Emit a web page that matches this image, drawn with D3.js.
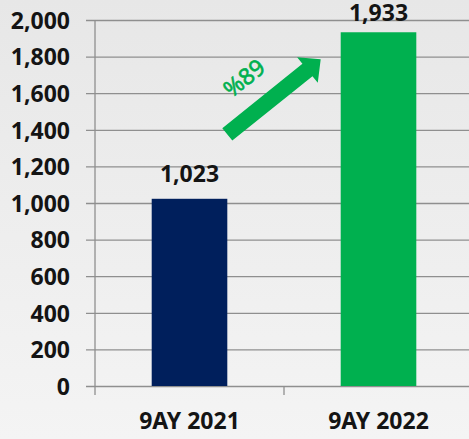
<!DOCTYPE html>
<html>
<head>
<meta charset="utf-8">
<script src="https://cdn.jsdelivr.net/npm/d3@7"></script>
<style>
  html, body { margin: 0; padding: 0; overflow: hidden; }
  svg { display: block; }
</style>
</head>
<body>
<svg id="chart"></svg>
<script>
// chart data
const categories = ['9AY 2021', '9AY 2022'];
const values = [1023, 1933];
const barColors = ['#001f5c', '#00b04f'];
const yTicks = [0, 200, 400, 600, 800, 1000, 1200, 1400, 1600, 1800, 2000];
const growthLabel = '%89';

const width = 469, height = 439;
const margin = { top: 20, right: -4, bottom: 53, left: 95 };
const font = '"Noto Sans", "Open Sans", sans-serif';

const svg = d3.select('#chart')
  .attr('width', width)
  .attr('height', height);

// soft grey background gradient
const defs = svg.append('defs');
const grad = defs.append('linearGradient')
  .attr('id', 'bg')
  .attr('x1', 0).attr('y1', 0).attr('x2', 0).attr('y2', 1);
grad.append('stop').attr('offset', '0%').attr('stop-color', '#e7e7e7');
grad.append('stop').attr('offset', '100%').attr('stop-color', '#f4f4f4');
svg.append('rect')
  .attr('width', width)
  .attr('height', height)
  .attr('fill', 'url(#bg)');

const x = d3.scaleBand()
  .domain(categories)
  .range([margin.left, width - margin.right])
  .paddingInner(0)
  .paddingOuter(0);

const y = d3.scaleLinear()
  .domain([0, 2000])
  .range([height - margin.bottom, margin.top]);

// gridlines + y axis
const yAxis = d3.axisLeft(y)
  .tickValues(yTicks)
  .tickFormat(d3.format(','))
  .tickSize(-(width - margin.left - margin.right))
  .tickPadding(0);

const yG = svg.append('g')
  .attr('transform', `translate(${margin.left},0)`)
  .call(yAxis);
yG.select('.domain').remove();
yG.selectAll('.tick line')
  .attr('x1', -9)
  .attr('stroke', '#8f8f8f')
  .attr('stroke-width', 1.3);
yG.selectAll('.tick text')
  .attr('x', -25)
  .attr('dy', '0.36em')
  .style('font-family', font)
  .style('font-weight', 'bold')
  .style('font-size', '23px')
  .attr('fill', '#141414');

// vertical axis line
svg.append('line')
  .attr('x1', margin.left).attr('x2', margin.left)
  .attr('y1', y(2000)).attr('y2', y(0) + 9)
  .attr('stroke', '#8f8f8f')
  .attr('stroke-width', 1.3);

// category boundary ticks on the x axis
categories.slice(1).forEach(c => {
  svg.append('line')
    .attr('x1', x(c)).attr('x2', x(c))
    .attr('y1', y(0)).attr('y2', y(0) + 9)
    .attr('stroke', '#8f8f8f')
    .attr('stroke-width', 1.3);
});

// bars
const barW = x.bandwidth() * 0.4;
svg.append('g')
  .selectAll('rect')
  .data(values)
  .enter()
  .append('rect')
  .attr('x', (d, i) => x(categories[i]) + (x.bandwidth() - barW) / 2)
  .attr('y', d => y(d))
  .attr('width', barW)
  .attr('height', d => y(0) - y(d))
  .attr('fill', (d, i) => barColors[i]);

// value labels (kept inside the top edge)
svg.append('g')
  .selectAll('text')
  .data(values)
  .enter()
  .append('text')
  .attr('x', (d, i) => x(categories[i]) + x.bandwidth() / 2)
  .attr('y', d => Math.max(y(d) - 17, 21))
  .attr('text-anchor', 'middle')
  .style('font-family', font)
  .style('font-weight', 'bold')
  .style('font-size', '23px')
  .attr('fill', '#141414')
  .text(d3.format(','));

// category labels
svg.append('g')
  .selectAll('text')
  .data(categories)
  .enter()
  .append('text')
  .attr('x', d => x(d) + x.bandwidth() / 2)
  .attr('y', y(0) + 43)
  .attr('text-anchor', 'middle')
  .style('font-family', font)
  .style('font-weight', 'bold')
  .style('font-size', '23px')
  .attr('fill', '#141414')
  .text(d => d);

// growth arrow between the bars
const x0 = x(categories[0]) + (x.bandwidth() + barW) / 2;
const x1 = x(categories[1]) + (x.bandwidth() - barW) / 2 - 20;
const y0 = y(1375), y1 = y(1785);
const angle = Math.atan2(y1 - y0, x1 - x0) * 180 / Math.PI;
const len = Math.hypot(x1 - x0, y1 - y0);
const shaft = 8, headLen = 17, headHalf = 16.5;
svg.append('path')
  .attr('transform', `translate(${x0},${y0}) rotate(${angle})`)
  .attr('d', d3.line()([
    [0, -shaft], [len - headLen, -shaft], [len - headLen, -headHalf], [len, 0],
    [len - headLen, headHalf], [len - headLen, shaft], [0, shaft]
  ]) + 'Z')
  .attr('fill', barColors[1]);

svg.append('text')
  .attr('transform', `translate(${x0 + 22},${y0 - 50}) rotate(${angle})`)
  .attr('text-anchor', 'middle')
  .style('font-family', font)
  .style('font-weight', 'normal')
  .style('font-size', '23px')
  .attr('fill', barColors[1])
  .attr('stroke', barColors[1])
  .attr('stroke-width', 0.6)
  .text(growthLabel);
</script>
</body>
</html>
